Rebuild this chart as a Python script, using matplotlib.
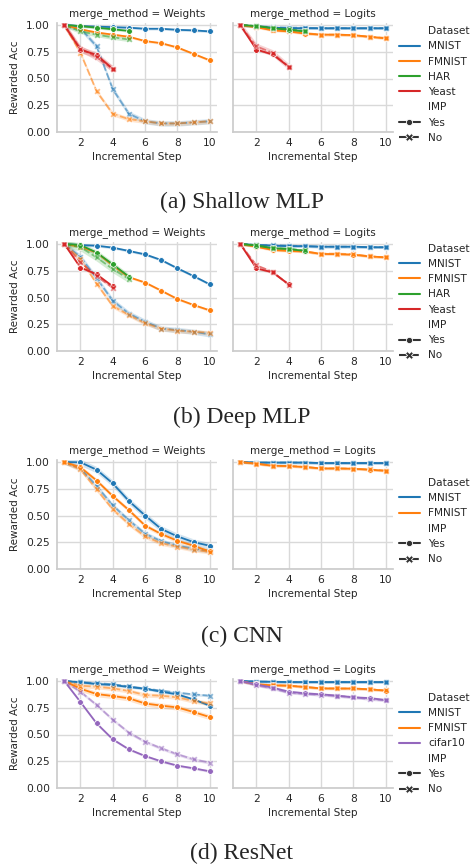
import matplotlib
matplotlib.use("Agg")
import matplotlib.pyplot as plt
import seaborn as sns
from matplotlib.lines import Line2D

steps = list(range(1, 11))
colors = {"MNIST": "#1f77b4", "FMNIST": "#ff7f0e", "HAR": "#2ca02c",
          "Yeast": "#d62728", "cifar10": "#9467bd"}

# (a) Shallow MLP
shallow_weights = {
    ("MNIST", "Yes"): [1.00, 0.99, 0.985, 0.98, 0.975, 0.965, 0.965, 0.955, 0.95, 0.94],
    ("MNIST", "No"): [1.00, 0.97, 0.80, 0.40, 0.17, 0.10, 0.08, 0.08, 0.09, 0.10],
    ("FMNIST", "Yes"): [1.00, 0.96, 0.93, 0.91, 0.89, 0.85, 0.83, 0.79, 0.73, 0.67],
    ("FMNIST", "No"): [1.00, 0.74, 0.38, 0.17, 0.12, 0.10, 0.08, 0.08, 0.09, 0.10],
    ("HAR", "Yes"): [1.00, 0.99, 0.975, 0.96, 0.945],
    ("HAR", "No"): [1.00, 0.94, 0.91, 0.885, 0.865],
    ("Yeast", "Yes"): [1.00, 0.77, 0.72, 0.59],
    ("Yeast", "No"): [1.00, 0.78, 0.70, 0.59],
}
shallow_logits = {
    ("MNIST", "Yes"): [1.00, 0.985, 0.975, 0.97, 0.97, 0.97, 0.97, 0.97, 0.97, 0.97],
    ("MNIST", "No"): [1.00, 0.99, 0.98, 0.975, 0.975, 0.97, 0.97, 0.97, 0.97, 0.97],
    ("FMNIST", "Yes"): [1.00, 0.98, 0.95, 0.94, 0.92, 0.91, 0.91, 0.905, 0.89, 0.875],
    ("FMNIST", "No"): [1.00, 0.985, 0.955, 0.945, 0.925, 0.91, 0.91, 0.905, 0.89, 0.88],
    ("HAR", "Yes"): [1.00, 0.99, 0.97, 0.955, 0.94],
    ("HAR", "No"): [1.00, 0.99, 0.975, 0.96, 0.945],
    ("Yeast", "Yes"): [1.00, 0.77, 0.725, 0.61],
    ("Yeast", "No"): [1.00, 0.80, 0.74, 0.61],
}

# (b) Deep MLP
deep_weights = {
    ("MNIST", "Yes"): [1.00, 0.99, 0.984, 0.966, 0.935, 0.903, 0.85, 0.773, 0.70, 0.623],
    ("MNIST", "No"): [1.00, 0.88, 0.68, 0.47, 0.35, 0.274, 0.21, 0.196, 0.18, 0.156],
    ("FMNIST", "Yes"): [1.00, 0.975, 0.92, 0.80, 0.69, 0.64, 0.564, 0.486, 0.43, 0.38],
    ("FMNIST", "No"): [1.00, 0.86, 0.63, 0.42, 0.336, 0.26, 0.21, 0.19, 0.18, 0.17],
    ("HAR", "Yes"): [1.00, 0.99, 0.92, 0.81, 0.695],
    ("HAR", "No"): [1.00, 0.97, 0.875, 0.766, 0.673],
    ("Yeast", "Yes"): [1.00, 0.78, 0.717, 0.604],
    ("Yeast", "No"): [1.00, 0.83, 0.70, 0.59],
}
deep_logits = {
    ("MNIST", "Yes"): [1.00, 0.99, 0.985, 0.98, 0.98, 0.975, 0.975, 0.975, 0.97, 0.97],
    ("MNIST", "No"): [1.00, 0.99, 0.99, 0.985, 0.98, 0.975, 0.975, 0.975, 0.97, 0.97],
    ("FMNIST", "Yes"): [1.00, 0.975, 0.944, 0.935, 0.93, 0.907, 0.905, 0.90, 0.884, 0.875],
    ("FMNIST", "No"): [1.00, 0.98, 0.95, 0.94, 0.93, 0.91, 0.91, 0.905, 0.885, 0.875],
    ("HAR", "Yes"): [1.00, 0.985, 0.96, 0.953, 0.935],
    ("HAR", "No"): [1.00, 0.99, 0.965, 0.955, 0.94],
    ("Yeast", "Yes"): [1.00, 0.772, 0.735, 0.623],
    ("Yeast", "No"): [1.00, 0.80, 0.74, 0.62],
}

# (c) CNN
cnn_weights = {
    ("MNIST", "Yes"): [1.00, 0.997, 0.928, 0.80, 0.635, 0.50, 0.374, 0.305, 0.251, 0.217],
    ("MNIST", "No"): [1.00, 0.94, 0.776, 0.594, 0.456, 0.33, 0.26, 0.22, 0.19, 0.17],
    ("FMNIST", "Yes"): [1.00, 0.95, 0.827, 0.682, 0.55, 0.406, 0.327, 0.264, 0.217, 0.164],
    ("FMNIST", "No"): [1.00, 0.93, 0.745, 0.557, 0.42, 0.305, 0.24, 0.21, 0.18, 0.16],
}
cnn_logits = {
    ("MNIST", "Yes"): [1.00, 0.995, 0.995, 0.995, 0.995, 0.99, 0.99, 0.99, 0.99, 0.99],
    ("MNIST", "No"): [1.00, 0.995, 0.995, 0.995, 0.995, 0.99, 0.99, 0.99, 0.99, 0.99],
    ("FMNIST", "Yes"): [1.00, 0.984, 0.965, 0.962, 0.953, 0.94, 0.94, 0.937, 0.928, 0.918],
    ("FMNIST", "No"): [1.00, 0.985, 0.967, 0.963, 0.955, 0.94, 0.94, 0.938, 0.93, 0.92],
}

# (d) ResNet
resnet_weights = {
    ("MNIST", "Yes"): [1.00, 0.988, 0.972, 0.963, 0.944, 0.928, 0.90, 0.875, 0.828, 0.77],
    ("MNIST", "No"): [1.00, 0.99, 0.98, 0.97, 0.95, 0.93, 0.91, 0.891, 0.875, 0.863],
    ("FMNIST", "Yes"): [1.00, 0.928, 0.878, 0.86, 0.838, 0.79, 0.77, 0.753, 0.71, 0.663],
    ("FMNIST", "No"): [1.00, 0.956, 0.947, 0.931, 0.907, 0.869, 0.863, 0.847, 0.813, 0.79],
    ("cifar10", "Yes"): [1.00, 0.804, 0.604, 0.455, 0.361, 0.299, 0.249, 0.209, 0.184, 0.156],
    ("cifar10", "No"): [1.00, 0.90, 0.776, 0.639, 0.517, 0.433, 0.371, 0.315, 0.268, 0.237],
}
resnet_logits = {
    ("MNIST", "Yes"): [1.00, 0.995, 0.993, 0.99, 0.99, 0.99, 0.99, 0.99, 0.99, 0.99],
    ("MNIST", "No"): [1.00, 0.995, 0.993, 0.99, 0.99, 0.99, 0.99, 0.99, 0.99, 0.99],
    ("FMNIST", "Yes"): [1.00, 0.968, 0.96, 0.956, 0.944, 0.931, 0.93, 0.93, 0.922, 0.91],
    ("FMNIST", "No"): [1.00, 0.97, 0.962, 0.957, 0.945, 0.932, 0.93, 0.93, 0.923, 0.912],
    ("cifar10", "Yes"): [1.00, 0.968, 0.938, 0.90, 0.885, 0.875, 0.863, 0.847, 0.84, 0.822],
    ("cifar10", "No"): [1.00, 0.96, 0.93, 0.89, 0.88, 0.87, 0.86, 0.85, 0.83, 0.82],
}

# half width of the shaded CI band (default 0.012)
bands = {
    ("a", "Weights", "Yeast", "Yes"): 0.03, ("a", "Weights", "Yeast", "No"): 0.03,
    ("a", "Weights", "HAR", "No"): 0.02, ("a", "Weights", "MNIST", "No"): 0.025,
    ("a", "Weights", "FMNIST", "No"): 0.02, ("a", "Logits", "Yeast", "No"): 0.03,
    ("b", "Weights", "HAR", "No"): 0.035, ("b", "Weights", "HAR", "Yes"): 0.025,
    ("b", "Weights", "MNIST", "No"): 0.025, ("b", "Weights", "FMNIST", "No"): 0.02,
    ("c", "Weights", "MNIST", "Yes"): 0.03, ("c", "Weights", "FMNIST", "Yes"): 0.02,
    ("c", "Weights", "MNIST", "No"): 0.02, ("c", "Weights", "FMNIST", "No"): 0.02,
    ("d", "Weights", "FMNIST", "Yes"): 0.025, ("d", "Weights", "FMNIST", "No"): 0.02,
    ("d", "Weights", "cifar10", "No"): 0.015, ("d", "Logits", "cifar10", "Yes"): 0.015,
}

rows = [
    ("a", "(a) Shallow MLP", shallow_weights, shallow_logits, ["MNIST", "FMNIST", "HAR", "Yeast"]),
    ("b", "(b) Deep MLP", deep_weights, deep_logits, ["MNIST", "FMNIST", "HAR", "Yeast"]),
    ("c", "(c) CNN", cnn_weights, cnn_logits, ["MNIST", "FMNIST"]),
    ("d", "(d) ResNet", resnet_weights, resnet_logits, ["MNIST", "FMNIST", "cifar10"]),
]

sns.set_theme(style="whitegrid")
plt.rcParams.update({
    "font.family": ["DejaVu Sans"], "font.size": 7.5,
    "axes.titlesize": 7.5, "axes.labelsize": 7.5,
    "xtick.labelsize": 7.7, "ytick.labelsize": 7.7, "legend.fontsize": 7.6,
    "axes.edgecolor": "0.8", "grid.color": "0.85",
})

W, H = 471, 865
fig = plt.figure(figsize=(W / 100, H / 100), dpi=100)

bottoms = [132, 351, 569, 788]   # pixel y of the x axis in each row
caption_y = [202, 417, 636, 853]
legend_y = [84.5, 302, 521, 743.5]
ax_h = 1.02 * 107


def draw_panel(ax, data, key, method, datasets):
    for ds in datasets:
        for imp in ["Yes", "No"]:
            if (ds, imp) not in data:
                continue
            y = data[(ds, imp)]
            x = steps[:len(y)]
            b = bands.get((key, method, ds, imp), 0.012)
            ax.fill_between(x, [v - b for v in y], [v + b for v in y],
                            color=colors[ds], alpha=0.2, lw=0)
            ls = "-" if imp == "Yes" else (0, (4, 1.5))
            mk = "o" if imp == "Yes" else "X"
            ms = 4.2 if imp == "Yes" else 5
            al = 1.0 if imp == "Yes" else 0.55
            ax.plot(x, y, color=colors[ds], ls=ls, lw=1.3, marker=mk, ms=ms,
                    mec="white", mew=0.6, alpha=al)
    ax.set_xlim(0.55, 10.45)
    ax.set_ylim(0, 1.02)
    ax.set_xticks([2, 4, 6, 8, 10])
    ax.set_yticks([0, 0.25, 0.5, 0.75, 1.0])
    ax.set_xlabel("Incremental Step", labelpad=3)
    ax.set_title("merge_method = " + method, pad=5, color="0.15")
    ax.tick_params(axis="both", length=0, colors="0.15")
    ax.tick_params(axis="y", pad=5)
    ax.tick_params(axis="x", pad=4)
    for s in ["top", "right"]:
        ax.spines[s].set_visible(False)


for i, (key, caption, wdata, ldata, datasets) in enumerate(rows):
    bot = 1 - bottoms[i] / H
    h = ax_h / H
    ax1 = fig.add_axes([57 / W, bot, 160 / W, h])
    ax2 = fig.add_axes([233 / W, bot, 160 / W, h], sharey=ax1)
    draw_panel(ax1, wdata, key, "Weights", datasets)
    draw_panel(ax2, ldata, key, "Logits", datasets)
    ax1.set_ylabel("Rewarded Acc")
    plt.setp(ax2.get_yticklabels(), visible=False)

    handles = [Line2D([], [], ls="", marker="")]
    labels = ["Dataset"]
    for ds in datasets:
        handles.append(Line2D([], [], color=colors[ds], lw=1.5))
        labels.append(ds)
    handles.append(Line2D([], [], ls="", marker=""))
    labels.append("IMP")
    handles.append(Line2D([], [], color="0.2", lw=1.5, marker="o", ms=4.5, mec="white", mew=0.6))
    labels.append("Yes")
    handles.append(Line2D([], [], color="0.2", lw=1.5, ls=(0, (4, 1.5)), marker="X", ms=5.5, mec="white", mew=0.6))
    labels.append("No")
    fig.legend(handles, labels, loc="center left", frameon=False,
               bbox_to_anchor=(389 / W, 1 - legend_y[i] / H), labelcolor="0.15")

    fig.text(242 / W, 1 - caption_y[i] / H, caption, ha="center", va="center",
             fontsize=17, family=["Liberation Serif", "DejaVu Serif"])

fig.savefig("out.png", dpi=100, facecolor="white")
